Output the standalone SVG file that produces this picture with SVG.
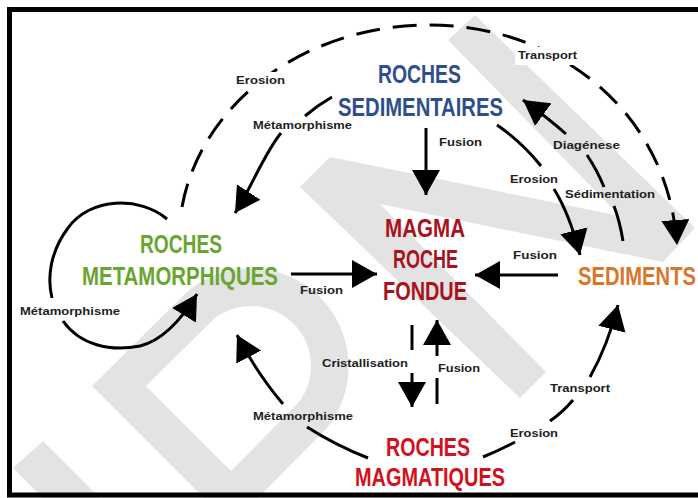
<svg xmlns="http://www.w3.org/2000/svg" width="698" height="498" viewBox="0 0 698 498">
<style>
.big{font-family:"Liberation Sans",Arial,sans-serif;font-weight:700;font-size:25px}
.lbl{font-family:"Liberation Sans",Arial,sans-serif;font-weight:700;font-size:11.5px;fill:#1e1e1e}
.ln{fill:none;stroke:#000;stroke-width:3}
.dash{stroke-dasharray:24 13}
.wm{fill:#e3e3e3}
</style>
<defs>
<marker id="ah" markerUnits="userSpaceOnUse" markerWidth="26" markerHeight="28" viewBox="0 0 26 28" refX="25" refY="14" orient="auto">
<path d="M0,0 L25,14 L0,28 Z" fill="#000"/>
</marker>
</defs>
<rect width="698" height="498" fill="#fff"/>
<g id="watermark">
<polygon class="wm" points="300,187 330,157 620,216 448,40 475,15 695,228 663,262 380,204 546,372 520,398"/>
<path class="wm" fill-rule="evenodd" d="M92 386 L231 525 L326 429 A98 98 0 0 0 188 291 Z M146 386 L231 471 L299 402 A60 60 0 0 0 215 318 Z"/>
<polygon class="wm" points="13,468 43,441 100,498 43,498"/>
</g>
<rect x="9.5" y="9.5" width="700" height="485.5" fill="none" stroke="#000" stroke-width="5"/>
<g id="connectors">
<path class="ln dash" d="M182 207 A250 215 0 0 1 430 25 C555 25 668 110 677 245" marker-end="url(#ah)"/>
<path class="ln" d="M332 97 Q318 105 305 116"/>
<path class="ln" d="M281 133 C265 152 250 190 235 213" marker-end="url(#ah)"/>
<path class="ln" d="M426 128 L426 195" marker-end="url(#ah)"/>
<path class="ln" d="M497 125 Q522 142 541 166"/>
<path class="ln" d="M554 189 Q570 215 580 255" marker-end="url(#ah)"/>
<path class="ln" d="M566 134 Q548 118 523 100" marker-end="url(#ah)"/>
<path class="ln" d="M587 155 Q597 170 604 187"/>
<path class="ln" d="M614 206 Q620 222 623 241"/>
<path class="ln" d="M558 275 L475 275" marker-end="url(#ah)"/>
<path class="ln" d="M291 274 L377 274" marker-end="url(#ah)"/>
<path class="ln" d="M412 325 L412 350"/>
<path class="ln" d="M412 373 L412 407" marker-end="url(#ah)"/>
<path class="ln" d="M437 404 L437 378"/>
<path class="ln" d="M437 356 L437 320" marker-end="url(#ah)"/>
<path class="ln" d="M283 404 Q258 375 237 335" marker-end="url(#ah)"/>
<path class="ln" d="M307 427 Q335 445 368 458"/>
<path class="ln" d="M483 457 Q500 450 515 442"/>
<path class="ln" d="M550 421 Q563 412 573 400"/>
<path class="ln" d="M590 377 Q608 345 618 305" marker-end="url(#ah)"/>
<path class="ln" d="M167 219 C140 196 90 197 68 228 C50 252 47 278 52 298"/>
<path class="ln" d="M63 321 C80 345 110 352 140 346 C160 341 180 322 197 294" marker-end="url(#ah)"/>
<rect x="233" y="72" width="55" height="16" fill="#fff"/>
<rect x="515" y="47" width="66" height="18" fill="#fff"/>
<text class="lbl" x="236" y="84" textLength="49" lengthAdjust="spacingAndGlyphs">Erosion</text>
<text class="lbl" x="518" y="59" textLength="59" lengthAdjust="spacingAndGlyphs">Transport</text>
<text class="lbl" x="253" y="129" textLength="99" lengthAdjust="spacingAndGlyphs">Métamorphisme</text>
<text class="lbl" x="439" y="146" textLength="43" lengthAdjust="spacingAndGlyphs">Fusion</text>
<text class="lbl" x="553" y="149" textLength="67" lengthAdjust="spacingAndGlyphs">Diagénese</text>
<text class="lbl" x="510" y="183" textLength="48" lengthAdjust="spacingAndGlyphs">Erosion</text>
<text class="lbl" x="565" y="198" textLength="90" lengthAdjust="spacingAndGlyphs">Sédimentation</text>
<text class="lbl" x="513" y="259" textLength="44" lengthAdjust="spacingAndGlyphs">Fusion</text>
<text class="lbl" x="300" y="294" textLength="43" lengthAdjust="spacingAndGlyphs">Fusion</text>
<text class="lbl" x="20" y="315" textLength="100" lengthAdjust="spacingAndGlyphs">Métamorphisme</text>
<text class="lbl" x="322" y="367" textLength="86" lengthAdjust="spacingAndGlyphs">Cristallisation</text>
<text class="lbl" x="438" y="372" textLength="42" lengthAdjust="spacingAndGlyphs">Fusion</text>
<text class="lbl" x="550" y="392" textLength="60" lengthAdjust="spacingAndGlyphs">Transport</text>
<text class="lbl" x="253" y="420" textLength="100" lengthAdjust="spacingAndGlyphs">Métamorphisme</text>
<text class="lbl" x="510" y="437" textLength="48" lengthAdjust="spacingAndGlyphs">Erosion</text>
</g>
<g id="roches-sedimentaires" fill="#2f4e8c">
<text class="big" x="378" y="83" textLength="83" lengthAdjust="spacingAndGlyphs">ROCHES</text>
<text class="big" x="338" y="116" textLength="165" lengthAdjust="spacingAndGlyphs">SEDIMENTAIRES</text>
</g>
<g id="magma" fill="#a8121f">
<text class="big" x="385" y="237" textLength="80" lengthAdjust="spacingAndGlyphs">MAGMA</text>
<text class="big" x="393" y="268" textLength="65" lengthAdjust="spacingAndGlyphs">ROCHE</text>
<text class="big" x="383" y="300" textLength="84" lengthAdjust="spacingAndGlyphs">FONDUE</text>
</g>
<g id="roches-metamorphiques" fill="#6aa531">
<text class="big" x="140" y="253" textLength="82" lengthAdjust="spacingAndGlyphs">ROCHES</text>
<text class="big" x="82" y="285" textLength="196" lengthAdjust="spacingAndGlyphs">METAMORPHIQUES</text>
</g>
<g id="sediments" fill="#d9772a">
<text class="big" x="578" y="285" textLength="118" lengthAdjust="spacingAndGlyphs">SEDIMENTS</text>
</g>
<g id="roches-magmatiques" fill="#d2111c">
<text class="big" x="386" y="456" textLength="84" lengthAdjust="spacingAndGlyphs">ROCHES</text>
<text class="big" x="355" y="486" textLength="150" lengthAdjust="spacingAndGlyphs">MAGMATIQUES</text>
</g>
</svg>
